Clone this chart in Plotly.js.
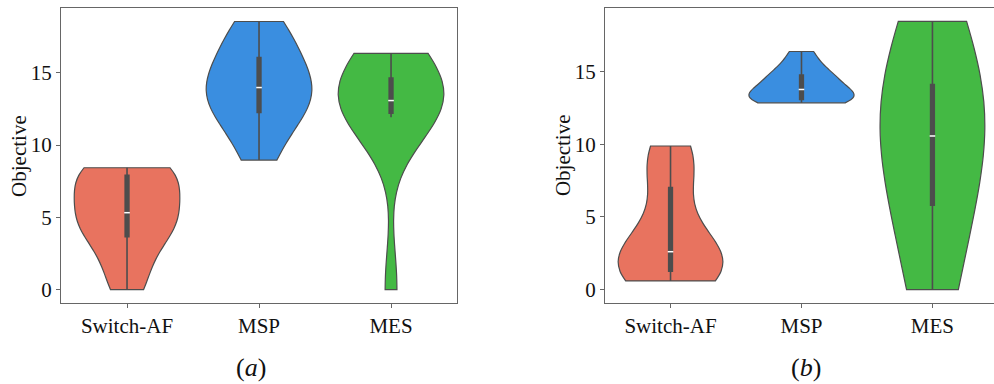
<!DOCTYPE html>
<html><head><meta charset="utf-8">
<script src="https://cdn.plot.ly/plotly-3.0.1.min.js"></script>
<style>html,body{margin:0;padding:0;background:#fff}</style>
</head><body><div id="chart" style="width:994px;height:384px"></div>
<script>
// Categories and tick labels
const categories = ['Switch-AF', 'MSP', 'MES'];
const yTicks = [0, 5, 10, 15];
const panelLabels = ['(<i>a</i>)', '(<i>b</i>)'];
const yTitle = 'Objective';

// Panel (a) samples
const a_switchAF = [0, 1.5, 3.2, 4.12, 4.6, 5.0, 5.64, 6.5, 7.8, 8.0, 8.25, 8.43];
const a_MSP = [8.96, 10.9, 12.1, 12.74, 13.3, 13.98, 14.6, 15.5, 16.23, 17.6, 18.55];
const a_MES = [0, 11.93, 12.1, 12.54, 12.8, 13.08, 13.5, 14.0, 14.84, 15.6, 16.35];

// Panel (b) samples
const b_switchAF = [0.6, 0.8, 1.0, 1.54, 2.0, 2.4, 2.82, 3.6, 6.0, 8.06, 9.2, 9.88];
const b_MSP = [12.85, 12.95, 13.0, 13.16, 13.4, 13.6, 13.94, 14.3, 14.6, 14.94, 15.5, 16.38];
const b_MES = [0, 1.0, 3.0, 8.6, 9.4, 10.0, 11.14, 12.4, 13.5, 14.7, 16.6, 18.45];

// KDE bandwidths (per violin)
const a_bw = [1.6, 1.8, 2.9];
const b_bw = [2.0, 0.65, 6.0];

const colors = ['#e8735f', '#3a8ee0', '#44b944'];
const edge = '#4d4d4d';
const FONT = 'Liberation Serif, Times New Roman, serif';

function median(arr) {
  const s = arr.slice().sort((p, q) => p - q);
  const n = 0.5 * s.length - 0.5;
  const f = n % 1;
  return f * s[Math.ceil(n)] + (1 - f) * s[Math.floor(n)];
}

function violin(data, cat, color, bw, xa, ya) {
  return {
    type: 'violin', x0: cat, y: data, name: cat, xaxis: xa, yaxis: ya,
    width: 0.8, scalemode: 'width', spanmode: 'hard', bandwidth: bw,
    points: false, fillcolor: color, line: {color: edge, width: 1.2},
    box: {visible: true, width: 0.035, fillcolor: edge, line: {color: edge, width: 1.6}},
    meanline: {visible: false}, hoverinfo: 'skip', showlegend: false
  };
}

const panelA = [a_switchAF, a_MSP, a_MES];
const panelB = [b_switchAF, b_MSP, b_MES];
const traces = [];
panelA.forEach((d, i) => traces.push(violin(d, categories[i], colors[i], a_bw[i], 'x', 'y')));
panelB.forEach((d, i) => traces.push(violin(d, categories[i], colors[i], b_bw[i], 'x2', 'y2')));
traces.push({type: 'scatter', mode: 'markers', xaxis: 'x', yaxis: 'y', x: categories,
  y: panelA.map(median), hoverinfo: 'skip', showlegend: false,
  marker: {symbol: 'line-ew', size: 4, color: 'white', line: {color: 'white', width: 1.5}}});
traces.push({type: 'scatter', mode: 'markers', xaxis: 'x2', yaxis: 'y2', x: categories,
  y: panelB.map(median), hoverinfo: 'skip', showlegend: false,
  marker: {symbol: 'line-ew', size: 4, color: 'white', line: {color: 'white', width: 1.5}}});

const axisCommon = {
  showline: true, linecolor: '#666', linewidth: 1, ticks: 'outside', ticklen: 4,
  tickcolor: '#666', tickwidth: 1, showgrid: false, zeroline: false,
  tickfont: {family: FONT, size: 21, color: '#111'}, fixedrange: true
};
const xCommon = Object.assign({}, axisCommon, {type: 'category', categoryarray: categories, categoryorder: 'array'});
const yCommon = Object.assign({}, axisCommon, {tickvals: yTicks});

const layout = {
  width: 994, height: 384, margin: {l: 0, r: 0, t: 0, b: 0},
  paper_bgcolor: '#fff', plot_bgcolor: '#fff', violinmode: 'overlay',
  font: {family: FONT, color: '#111'},
  xaxis: Object.assign({}, xCommon, {domain: [0.0614, 0.4598], range: [-0.5, 2.5], anchor: 'y', mirror: true}),
  yaxis: Object.assign({}, yCommon, {domain: [0.2109, 0.979], range: [-0.93, 19.48], anchor: 'x', mirror: true}),
  xaxis2: Object.assign({}, xCommon, {domain: [0.6087, 1], range: [-0.5, 2.47], anchor: 'y2', mirror: true}),
  yaxis2: Object.assign({}, yCommon, {domain: [0.2109, 0.979], range: [-0.92, 19.37], anchor: 'x2', mirror: false}),
  annotations: [
    {text: yTitle, xref: 'paper', yref: 'paper', x: 0.0185, y: 0.595, textangle: -90, showarrow: false,
     font: {family: FONT, size: 21, color: '#111'}, xanchor: 'center', yanchor: 'middle'},
    {text: yTitle, xref: 'paper', yref: 'paper', x: 0.566, y: 0.595, textangle: -90, showarrow: false,
     font: {family: FONT, size: 21, color: '#111'}, xanchor: 'center', yanchor: 'middle'},
    {text: panelLabels[0], xref: 'paper', yref: 'paper', x: 0.2525, y: 0.042, showarrow: false,
     font: {family: FONT, size: 26, color: '#111'}, xanchor: 'center', yanchor: 'middle'},
    {text: panelLabels[1], xref: 'paper', yref: 'paper', x: 0.811, y: 0.042, showarrow: false,
     font: {family: FONT, size: 26, color: '#111'}, xanchor: 'center', yanchor: 'middle'}
  ]
};

Plotly.newPlot('chart', traces, layout, {displayModeBar: false, staticPlot: true});
</script>
</body></html>
